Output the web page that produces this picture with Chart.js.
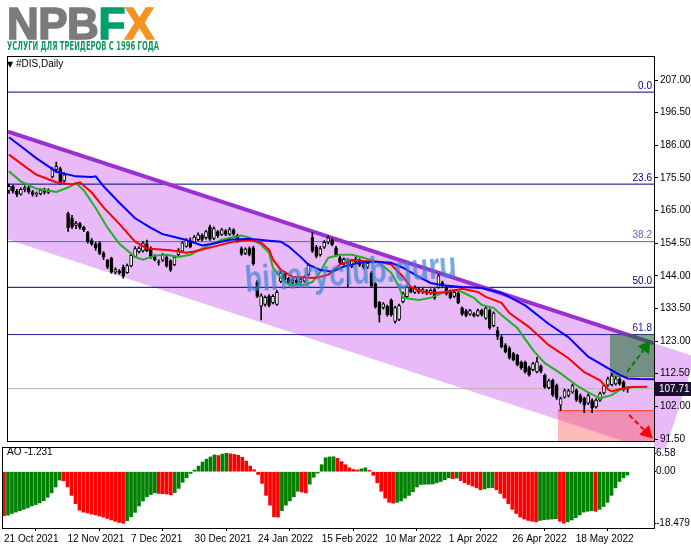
<!DOCTYPE html>
<html>
<head>
<meta charset="utf-8">
<script src="https://cdn.jsdelivr.net/npm/chart.js@4.4.0/dist/chart.umd.min.js"></script>
<style>
html, body { margin: 0; padding: 0; background: #fff; }
#stage { position: relative; width: 691px; height: 549px; overflow: hidden; font-family: 'Liberation Sans', Arial, sans-serif; }
#mainChart { position: absolute; left: 0; top: 0; }
#aoChart { position: absolute; left: 0; top: 442px; }
.logo { position: absolute; left: 7px; top: 2px; font-weight: bold; font-size: 44px; line-height: 44px; letter-spacing: -0.5px; white-space: nowrap; }
.logo .g { color: #7b7b7b; -webkit-text-stroke: 1.6px #7b7b7b; }
.logo .f { color: #00a06a; -webkit-text-stroke: 1.6px #00a06a; }
.logo .x { color: #f39321; -webkit-text-stroke: 1.6px #f39321; }
.slogan { position: absolute; left: 7px; top: 40px; font: bold 11.5px/12px 'Liberation Sans Narrow', 'DejaVu Sans Condensed', sans-serif; color: #139b5f; white-space: nowrap; transform-origin: 0 0; }
.caption { position: absolute; font-size: 10px; line-height: 12px; color: #000; white-space: nowrap; }
.caption .tri { font-size: 8px; font-family: 'DejaVu Sans', sans-serif; }
.mark { position: absolute; left: 245px; top: 262px; font: bold 36px/36px 'Liberation Sans', Arial, sans-serif; color: rgba(60, 130, 210, 0.7); transform-origin: 0 50%; white-space: nowrap; }
</style>
</head>
<body>
<div id="stage">
  <canvas id="mainChart" width="691" height="449"></canvas>
  <canvas id="aoChart" width="691" height="107"></canvas>
  <div class="logo"><span class="g">NPB</span><span class="f">F</span><span class="x">X</span></div>
  <div class="slogan" id="slogan">УСЛУГИ ДЛЯ ТРЕЙДЕРОВ С 1996 ГОДА</div>
  <div class="caption" style="left:7px;top:58px"><span class="tri">▼</span> #DIS,Daily</div>
  <div class="caption" style="left:7px;top:446px">AO -1.231</div>
  <div class="mark" id="mark">binaryclub.guru</div>
</div>
<script>
// date ticks (bar index -> label)
const tickIdx = [0, 16, 32, 48, 64, 80, 96, 112, 128, 144];
const tickLabels = ['21 Oct 2021', '12 Nov 2021', '7 Dec 2021', '30 Dec 2021', '24 Jan 2022',
                    '15 Feb 2022', '10 Mar 2022', '1 Apr 2022', '26 Apr 2022', '18 May 2022'];
const priceTicks = [207, 196.5, 186, 175.5, 165, 154.5, 144, 133.5, 123, 112.5, 102, 91.5];
const aoTicks = [6.58, 0, -18.479];
const aoTickLabels = ['6.58', '0.00', '-18.479'];

// daily DIS candles, 21 Oct 2021 onwards
const opens = [
  171.5, 172.8, 171.2, 170.3, 171.8, 172.4, 171.0, 170.2, 170.4, 171.6,
  170.8, 175.8, 178.2, 178.5, 174.5, 164.0, 162.5, 160.2, 160.8, 159.6,
  157.9, 155.3, 154.2, 154.5, 151.3, 149.0, 149.6, 145.2, 145.6, 146.8,
  145.0, 147.2, 150.2, 151.8, 152.0, 154.3, 152.8, 150.2, 148.5, 149.0,
  150.0, 148.8, 147.6, 150.8, 151.9, 153.5, 155.3, 154.8, 155.6, 157.0,
  156.3, 159.7, 156.0, 158.2, 157.3, 158.5, 157.4, 158.8, 157.0, 152.8,
  151.2, 152.8, 153.0, 141.9, 134.2, 134.8, 137.4, 135.4, 134.8, 142.2,
  144.5, 143.2, 141.9, 142.6, 142.0, 142.3, 144.4, 156.3, 153.2, 150.8,
  153.2, 154.8, 155.6, 153.0, 149.8, 148.0, 148.5, 147.0, 148.5, 149.0,
  147.6, 146.8, 145.0, 141.5, 135.5, 133.8, 134.2, 136.2, 129.3, 130.0,
  135.7, 137.3, 139.9, 138.7, 139.7, 138.9, 139.2, 138.5, 139.6, 140.3,
  141.8, 140.3, 139.0, 137.4, 138.4, 133.6, 132.7, 131.7, 131.8, 131.3,
  132.9, 130.4, 133.0, 128.0, 126.4, 124.3, 121.7, 120.7, 119.0, 118.4,
  116.2, 116.2, 114.5, 113.8, 113.1, 115.0, 112.0, 108.0, 110.4, 108.8,
  102.4, 105.0, 105.5, 106.6, 107.2, 105.5, 104.6, 103.0, 103.9, 101.8,
  104.0, 106.3, 108.8, 109.0, 109.2, 110.7, 109.8, 107.9
];
const highs = [
  173.5, 173.2, 171.8, 172.3, 173.0, 172.8, 171.5, 171.0, 172.0, 172.2,
  172.0, 178.8, 180.6, 179.0, 177.3, 164.5, 163.5, 161.5, 161.2, 160.0,
  158.3, 156.0, 154.8, 155.0, 151.8, 149.3, 150.0, 146.6, 146.0, 147.5,
  147.8, 151.0, 153.4, 153.4, 155.0, 155.5, 153.3, 150.8, 149.2, 151.2,
  150.5, 149.2, 150.4, 152.8, 155.0, 156.0, 156.2, 157.0, 157.8, 157.5,
  158.6, 160.3, 159.8, 158.6, 159.3, 158.9, 159.5, 159.2, 157.4, 153.3,
  153.0, 153.3, 153.5, 142.5, 138.2, 137.6, 138.0, 138.0, 139.3, 145.5,
  145.4, 143.6, 143.2, 143.4, 143.5, 144.0, 148.0, 157.9, 153.8, 153.5,
  155.3, 156.8, 156.0, 153.5, 150.3, 149.8, 149.5, 149.2, 150.0, 149.5,
  148.2, 148.5, 145.4, 141.8, 135.8, 135.4, 134.6, 136.6, 134.3, 134.9,
  138.8, 140.8, 140.4, 140.8, 140.2, 140.0, 139.6, 139.8, 140.0, 144.6,
  142.3, 140.8, 139.5, 139.3, 138.8, 134.0, 133.2, 133.2, 132.2, 133.3,
  133.3, 134.0, 133.4, 132.4, 127.5, 124.8, 122.2, 121.2, 119.4, 118.8,
  116.6, 116.6, 115.0, 116.2, 117.8, 115.4, 112.4, 110.8, 110.8, 109.2,
  105.0, 107.6, 107.5, 109.2, 107.6, 106.0, 105.0, 106.0, 104.4, 104.5,
  106.6, 109.2, 111.4, 112.6, 111.5, 111.2, 110.3, 108.3
];
const lows = [
  170.5, 170.6, 169.5, 169.9, 171.0, 170.5, 169.6, 169.5, 170.0, 170.3,
  170.4, 175.5, 177.3, 173.4, 174.2, 158.3, 159.2, 159.2, 159.0, 158.2,
  154.5, 153.8, 152.2, 150.8, 149.2, 146.3, 144.8, 144.6, 144.5, 143.2,
  144.8, 146.9, 149.9, 151.3, 151.6, 151.8, 149.6, 148.8, 147.4, 148.6,
  146.8, 145.4, 147.2, 150.4, 151.5, 153.2, 153.0, 154.5, 155.3, 155.2,
  155.8, 155.4, 155.6, 156.3, 157.0, 156.9, 157.0, 157.0, 154.8, 150.6,
  150.8, 150.4, 147.4, 137.0, 129.8, 134.2, 134.0, 135.0, 134.5, 141.8,
  142.4, 141.2, 141.3, 141.2, 141.6, 141.9, 144.0, 151.5, 149.8, 150.3,
  152.8, 154.3, 153.6, 150.3, 147.8, 147.5, 140.4, 146.6, 148.0, 147.0,
  146.2, 146.3, 140.4, 133.6, 129.1, 133.3, 131.0, 131.0, 128.8, 129.6,
  135.3, 136.9, 138.5, 138.3, 138.3, 138.3, 137.9, 138.0, 136.4, 140.0,
  140.4, 137.8, 136.6, 137.0, 135.0, 131.3, 130.8, 131.3, 130.8, 130.9,
  131.0, 130.0, 126.8, 127.6, 123.5, 120.8, 119.2, 117.2, 116.6, 115.0,
  113.9, 112.7, 111.7, 113.4, 112.8, 112.8, 107.8, 107.6, 105.2, 104.2,
  100.7, 104.6, 105.0, 106.2, 103.6, 103.0, 100.0, 102.6, 100.0, 101.4,
  103.6, 105.9, 108.4, 108.6, 108.8, 108.8, 106.9, 106.5
];
const closes = [
  172.8, 171.2, 170.2, 171.8, 172.4, 171.0, 170.2, 170.4, 171.6, 170.8,
  171.5, 178.2, 179.2, 174.0, 176.5, 159.5, 159.8, 161.0, 159.6, 158.8,
  155.0, 154.2, 153.0, 151.2, 150.0, 146.8, 145.2, 146.0, 144.9, 143.9,
  147.3, 150.6, 152.8, 152.9, 154.5, 152.0, 150.0, 149.2, 148.2, 150.8,
  147.2, 146.0, 150.0, 152.3, 154.6, 155.5, 153.4, 156.5, 157.2, 155.7,
  158.2, 155.8, 159.2, 156.8, 158.8, 157.3, 158.9, 157.4, 155.2, 151.0,
  152.6, 150.9, 147.8, 137.4, 137.6, 137.1, 134.5, 137.4, 138.7, 144.8,
  142.8, 141.8, 142.6, 141.8, 142.9, 143.6, 147.5, 152.0, 150.3, 152.8,
  154.8, 156.2, 154.0, 150.8, 148.3, 149.3, 147.0, 148.8, 149.5, 147.5,
  146.8, 148.0, 140.8, 134.0, 131.5, 135.0, 131.5, 131.4, 133.8, 134.4,
  138.3, 140.3, 138.9, 140.3, 138.8, 139.6, 138.4, 139.3, 136.9, 144.0,
  140.8, 138.2, 137.0, 138.8, 135.4, 131.8, 131.3, 132.8, 131.2, 132.8,
  131.5, 133.6, 127.2, 132.0, 124.5, 121.2, 119.6, 117.6, 117.0, 115.4,
  114.4, 113.1, 112.2, 115.8, 116.3, 113.3, 108.2, 110.2, 105.7, 104.7,
  104.5, 107.1, 107.0, 108.7, 104.0, 103.4, 102.4, 105.5, 101.5, 104.0,
  106.1, 108.7, 110.9, 111.8, 110.9, 109.2, 107.3, 107.71
];

// Alligator lines as [bar, price]
const jawLine = [[0,188.6],[4,184.7],[7,181.8],[12,177.5],[17,176.0],[21,175.8],[22,176.0],[24,172.8],
  [28,167.5],[32,162.5],[36,159.4],[39,157.4],[42,156.5],[45,155.5],[49,153.8],[52,154.4],[56,155.6],
  [61,155.9],[66,155.3],[69,155.0],[71,153.4],[74,150.1],[76,147.6],[79,145.9],[82,145.3],[85,147.0],
  [89,148.2],[93,148.5],[97,148.2],[100,146.6],[104,143.7],[107,141.7],[110,141.0],[115,140.4],
  [120,140.1],[125,138.5],[131,134.5],[137,128.5],[142,124.2],[147,118.0],[152,114.3],[155,112.1],
  [157,111.0],[160,110.8],[165,110.7]];
const teethLine = [[0,183.0],[4,179.2],[7,176.5],[12,174.1],[16,173.4],[18,174.1],[21,170.8],[24,166.0],
  [28,160.7],[32,155.0],[35,152.8],[41,152.2],[45,151.4],[47,151.8],[52,153.4],[57,155.0],[61,155.6],
  [64,154.7],[66,152.4],[67,149.2],[69,145.9],[72,143.7],[76,143.4],[78,143.4],[81,144.3],[82,145.2],
  [84,147.6],[87,149.2],[90,148.8],[94,148.5],[97,147.6],[100,143.7],[102,140.4],[105,138.8],
  [108,138.5],[111,138.8],[115,139.8],[119,138.8],[121,137.2],[125,135.3],[127,132.0],[132,127.5],
  [137,121.7],[142,117.5],[146,113.0],[150,110.4],[152,107.5],[153,106.8],[155,107.6],[158,108.2],
  [162,108.3]];
const lipsLine = [[0,177.6],[3,174.4],[7,172.0],[12,171.0],[15,172.4],[17,173.8],[19,171.5],[22,165.8],
  [25,159.5],[28,154.3],[32,150.1],[34,149.2],[37,150.5],[40,150.8],[43,150.1],[46,150.8],[50,153.4],
  [54,155.6],[59,157.0],[61,156.3],[64,154.0],[66,151.4],[67,146.6],[69,143.4],[71,141.1],[75,141.1],
  [77,142.0],[79,145.3],[81,149.8],[84,150.8],[87,150.8],[90,149.8],[94,148.2],[97,145.0],[99,140.4],
  [100,136.9],[104,136.2],[107,136.9],[110,138.5],[113,139.5],[115,138.8],[118,136.9],[120,134.6],
  [123,133.7],[125,131.4],[129,127.2],[133,120.1],[136,115.9],[140,112.6],[144,108.8],[147,106.5],
  [150,104.6],[153,105.6],[155,107.3],[158,108.2],[159,108.2]];

// Awesome Oscillator
const aoValues = [
  -15.8, -15.6, -15.0, -14.5, -14.0, -13.5, -13.0, -12.3, -11.8, -11.2,
  -10.4, -9.2, -7.6, -5.5, -3.0, -3.3, -5.5, -8.5, -11.5, -13.8,
  -14.5, -14.8, -15.2, -15.5, -15.9, -16.3, -16.8, -17.3, -17.8, -18.2,
  -18.5, -17.6, -16.2, -14.6, -12.3, -10.5, -9.0, -8.2, -7.6, -7.8,
  -7.9, -8.0, -8.3, -7.5, -6.0, -3.8, -2.2, -0.6, 0.6, 2.0,
  3.5, 4.5, 5.3, 6.0, 5.8, 6.3, 6.58, 6.4, 6.2, 5.9,
  5.2, 3.8, 2.0, 0.7, -1.0, -4.2, -8.5, -12.0, -16.2, -16.3,
  -14.0, -12.0, -10.5, -9.0, -7.0, -7.3, -7.6, -4.5, -2.0, -0.5,
  2.5, 5.0, 5.3, 5.35, 4.8, 3.6, 2.5, 1.4, 0.8, 0.6,
  1.0, 1.4, 0.5, -1.3, -4.0, -7.0, -9.5, -11.0, -11.3, -11.0,
  -10.5, -9.5, -8.5, -7.2, -5.5, -4.6, -4.5, -4.45, -4.4, -4.0,
  -3.5, -2.9, -2.2, -2.5, -2.3, -3.2, -4.0, -4.6, -5.2, -5.8,
  -6.5, -6.2, -5.8, -5.7, -6.5, -7.8, -9.5, -11.5, -13.5, -15.0,
  -16.3, -17.0, -17.5, -17.8, -18.0, -17.5, -17.2, -17.1, -17.0, -16.9,
  -17.8, -18.479, -18.0, -17.3, -16.5, -15.5, -14.5, -14.2, -14.0, -14.2,
  -13.5, -12.5, -11.0, -8.5, -5.8, -3.5, -2.2, -1.231
];

// drawing objects
const fibLevels = ['0.0', '23.6', '38.2', '50.0', '61.8'];
const fibPrices = [203.1, 173.5, 155.0, 140.3, 125.1];
const fibColors = ['#000080', '#000080', '#6a5acd', '#000060', '#202090'];
const channelUpper = [[-0.25, 190.4], [163.7, 122.3]];
const channelLower = [[-0.25, 155.7], [163.7, 87.6]];
const channelEnd = [[174.2, 118.0], [166.2, 86.6]];   // right-hand corners of the channel
const greenZone = [152.5, 125.1, 111.55];   // from bar, top price, bottom price
const redZone = [139.3, 100.6];             // from bar, top price
const arrowUp = [[156.9, 113.1], [161.6, 121.1]];
const arrowDown = [[157.4, 99.2], [161.9, 93.5]];

const xMin = -0.25, xMax = 163.7;
const lastClose = closes[closes.length - 1];
const axisFont = { family: 'Liberation Sans', size: 10 };
const channelColor = '#e8bbf8';

const pts = arr => arr.map(([x, y]) => ({ x, y }));
const hline = (y, from) => [{ x: from, y }, { x: xMax, y }];

const framePlugin = {
  id: 'frame',
  afterDraw(chart) {
    const { ctx, chartArea: a } = chart;
    ctx.save();
    ctx.strokeStyle = '#000';
    ctx.lineWidth = 1;
    ctx.strokeRect(a.left - 0.5, a.top - 0.5, a.width + 1, a.height + 1);
    ctx.restore();
  }
};

// the channel runs on past the price scale, under its labels
const channelTailPlugin = {
  id: 'channelTail',
  beforeDraw(chart) {
    const { ctx } = chart;
    const { x, y } = chart.scales;
    const corners = [channelUpper[1], channelEnd[0], channelEnd[1], channelLower[1]];
    ctx.save();
    ctx.fillStyle = channelColor;
    ctx.beginPath();
    corners.forEach(([b, p], k) => {
      const px = x.getPixelForValue(b), py = y.getPixelForValue(p);
      if (k === 0) ctx.moveTo(px, py); else ctx.lineTo(px, py);
    });
    ctx.closePath();
    ctx.fill();
    ctx.restore();
  }
};

const labelsPlugin = {
  id: 'levelLabels',
  afterDatasetsDraw(chart) {
    const { ctx, chartArea: a } = chart;
    const y = chart.scales.y;
    ctx.save();
    ctx.font = '10px Liberation Sans';
    ctx.textAlign = 'right';
    ctx.textBaseline = 'bottom';
    fibLevels.forEach((t, k) => {
      ctx.fillStyle = fibColors[k];
      ctx.fillText(t, a.right - 2, y.getPixelForValue(fibPrices[k]) - 1);
    });
    ctx.restore();
  },
  afterDraw(chart) {
    const { ctx, chartArea: a } = chart;
    const py = Math.round(chart.scales.y.getPixelForValue(lastClose));
    ctx.save();
    ctx.fillStyle = '#1c1030';
    ctx.fillRect(a.right + 1, py - 7, chart.width - a.right - 1, 14);
    ctx.fillStyle = '#fff';
    ctx.font = '10px Liberation Sans';
    ctx.textBaseline = 'middle';
    ctx.fillText(lastClose.toFixed(2), a.right + 5, py + 0.5);
    ctx.restore();
  }
};

const lineDs = (data, color, width, order, extra) => Object.assign({
  type: 'line', data, borderColor: color, borderWidth: width, pointRadius: 0,
  tension: 0, fill: false, order
}, extra || {});

const datasets = [
  lineDs(pts(channelUpper), 'rgba(0,0,0,0)', 0, 10, { fill: '+1', backgroundColor: channelColor }),
  lineDs(pts(channelLower), 'rgba(0,0,0,0)', 0, 10),
  ...fibPrices.map((p, k) => lineDs(hline(p, xMin), fibColors[k], 1, 8)),
  lineDs(hline(lastClose, xMin), '#b4b4b4', 1, 8),
  lineDs(pts(channelUpper), '#9a2fd2', 4, 7),
  lineDs(hline(redZone[1], redZone[0]), '#ff3a10', 1, 6, { fill: { value: 60 }, backgroundColor: 'rgba(255,60,60,0.35)' }),
  lineDs(hline(greenZone[1], greenZone[0]), 'rgba(0,0,0,0)', 0, 6, { fill: { value: greenZone[2] }, backgroundColor: 'rgba(20,110,40,0.55)' }),
  lineDs(hline(greenZone[2], greenZone[0]), '#c08040', 1, 6),
  lineDs(pts(jawLine), '#0000ff', 2, 1),
  lineDs(pts(teethLine), '#ff0000', 2, 1),
  lineDs(pts(lipsLine), '#22b022', 2, 1),
  lineDs(pts(arrowUp), '#008000', 2, 0, { borderDash: [5, 3], pointRadius: [0, 6], pointStyle: 'triangle', rotation: 36, pointBackgroundColor: '#008000', pointBorderColor: '#008000', clip: 8 }),
  lineDs(pts(arrowDown), '#ff0000', 2, 0, { borderDash: [5, 3], pointRadius: [0, 6], pointStyle: 'triangle', rotation: 135, pointBackgroundColor: '#ff0000', pointBorderColor: '#ff0000', clip: 8 }),
  {
    type: 'bar', order: 3, grouped: false, barThickness: 1,
    data: lows.map((l, i) => ({ x: i, y: [l, highs[i]] })),
    backgroundColor: '#000'
  },
  {
    type: 'bar', order: 2, grouped: false, barThickness: 3, minBarLength: 1,
    data: opens.map((o, i) => ({ x: i, y: [o, closes[i]] })),
    backgroundColor: opens.map((o, i) => closes[i] >= o ? '#ffffff' : '#000000'),
    borderColor: '#000', borderWidth: 1, borderSkipped: false
  }
];

new Chart(document.getElementById('mainChart'), {
  type: 'bar',
  data: { datasets },
  options: {
    responsive: false,
    animation: false,
    events: [],
    layout: { padding: { left: 3, top: 57, right: 0, bottom: 8 } },
    plugins: { legend: { display: false }, tooltip: { enabled: false } },
    scales: {
      x: { type: 'linear', min: xMin, max: xMax, display: false, offset: false },
      y: {
        position: 'right', min: 90.86, max: 214.4,
        afterFit(s) { s.width = 37; },
        afterBuildTicks(s) { s.ticks = priceTicks.map(v => ({ value: v })); },
        ticks: { autoSkip: false, callback: v => Number(v).toFixed(2), color: '#000', font: axisFont, padding: 2 },
        grid: { drawOnChartArea: false, tickLength: 4, color: '#000' },
        border: { color: '#000' }
      }
    }
  },
  plugins: [channelTailPlugin, framePlugin, labelsPlugin]
});

new Chart(document.getElementById('aoChart'), {
  type: 'bar',
  data: {
    datasets: [{
      data: aoValues.map((v, i) => ({ x: i, y: v })),
      backgroundColor: aoValues.map((v, i) => (i > 0 && v > aoValues[i - 1]) ? '#008000' : '#ff0000'),
      barThickness: 3, grouped: false
    }]
  },
  options: {
    responsive: false,
    animation: false,
    events: [],
    layout: { padding: { left: 3, top: 2, right: 0, bottom: 0 } },
    plugins: { legend: { display: false }, tooltip: { enabled: false } },
    scales: {
      x: {
        type: 'linear', min: xMin, max: xMax, offset: false,
        afterFit(s) { s.height = 21; },
        afterBuildTicks(s) { s.ticks = tickIdx.map(v => ({ value: v })); },
        ticks: { autoSkip: false, maxRotation: 0, minRotation: 0, align: 'start', color: '#000', font: axisFont, padding: 2,
                 callback: (v, idx) => tickLabels[idx] },
        grid: { drawOnChartArea: false, tickLength: 3, color: '#000' },
        border: { color: '#000' }
      },
      y: {
        position: 'right', min: -20.2, max: 8.5,
        afterFit(s) { s.width = 37; },
        afterBuildTicks(s) { s.ticks = aoTicks.map(v => ({ value: v })); },
        ticks: { autoSkip: false, color: '#000', font: axisFont, padding: 0, callback: (v, idx) => aoTickLabels[idx] },
        grid: { drawOnChartArea: false, tickLength: 2, color: '#000' },
        border: { color: '#000' }
      }
    }
  },
  plugins: [framePlugin]
});

// fit slogan and watermark to their widths in the picture
const slogan = document.getElementById('slogan');
slogan.style.transform = 'scaleX(' + (152 / slogan.getBoundingClientRect().width) + ')';
const mark = document.getElementById('mark');
mark.style.transform = 'rotate(-4deg) scaleX(' + (212 / mark.getBoundingClientRect().width) + ')';
</script>
</body>
</html>
